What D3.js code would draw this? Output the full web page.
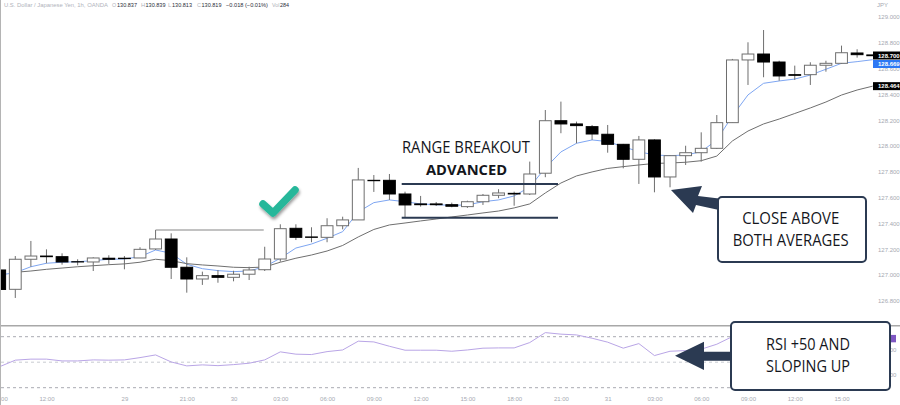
<!DOCTYPE html>
<html>
<head>
<meta charset="utf-8">
<script src="https://d3js.org/d3.v7.min.js"></script>
<style>
    html, body { margin: 0; padding: 0; background: #fff; }
    svg { display: block; font-family: "Liberation Sans", Arial, sans-serif; }
    .note { font-family: "Open Sans", sans-serif; fill: #14161c; text-anchor: middle; }
    .axis text { fill: #a6a9b2; font-size: 6px; }
    .axis path, .axis line { display: none; }
</style>
</head>
<body>
<div id="chart-area"></div>
<script>
var width = 900;
var height = 405;

// hourly candles
var opens = [127.039, 126.889, 127.122, 127.147, 127.142, 127.103, 127.101, 127.130, 127.130, 127.132,
    127.202, 127.279, 127.060, 126.969, 126.995, 126.982, 127.006, 127.041, 127.124, 127.362,
    127.295, 127.292, 127.382, 127.427, 127.734, 127.734, 127.628, 127.551, 127.551, 127.545,
    127.530, 127.568, 127.618, 127.633, 127.628, 127.789, 128.196, 128.171, 128.150, 128.091,
    128.013, 127.897, 128.047, 127.760, 127.925, 127.948, 127.982, 128.181, 128.667, 128.713,
    128.651, 128.553, 128.553, 128.626, 128.641, 128.721, 128.706];
var highs = [127.054, 127.147, 127.264, 127.199, 127.168, 127.122, 127.137, 127.153, 127.147, 127.215,
    127.349, 127.323, 127.137, 127.026, 127.039, 127.033, 127.064, 127.219, 127.393, 127.393,
    127.370, 127.440, 127.452, 127.830, 127.775, 127.783, 127.646, 127.613, 127.566, 127.561,
    127.576, 127.628, 127.665, 127.646, 127.879, 128.279, 128.344, 128.189, 128.163, 128.163,
    128.016, 128.078, 128.052, 127.930, 128.002, 128.106, 128.240, 128.675, 128.804, 128.899,
    128.661, 128.623, 128.649, 128.661, 128.778, 128.750, 128.706];
var lows = [126.868, 126.822, 127.064, 127.091, 127.080, 127.075, 127.031, 127.086, 127.044, 127.132,
    127.194, 126.969, 126.863, 126.923, 126.940, 126.951, 126.961, 127.031, 127.103, 127.271,
    127.254, 127.254, 127.354, 127.427, 127.644, 127.582, 127.447, 127.530, 127.535, 127.525,
    127.520, 127.543, 127.595, 127.537, 127.620, 127.758, 128.099, 128.021, 128.047, 127.948,
    127.827, 127.706, 127.641, 127.680, 127.853, 127.879, 127.977, 128.181, 128.473, 128.533,
    128.506, 128.512, 128.473, 128.576, 128.636, 128.685, 128.700];
var closes = [126.888, 127.122, 127.147, 127.142, 127.101, 127.101, 127.132, 127.122, 127.127, 127.199,
    127.279, 127.060, 126.969, 126.995, 126.982, 127.006, 127.039, 127.124, 127.359, 127.292,
    127.292, 127.382, 127.427, 127.737, 127.731, 127.628, 127.543, 127.545, 127.545, 127.533,
    127.568, 127.618, 127.636, 127.628, 127.783, 128.196, 128.171, 128.158, 128.093, 128.013,
    127.897, 128.047, 127.760, 127.925, 127.948, 127.982, 128.181, 128.667, 128.713, 128.651,
    128.543, 128.548, 128.626, 128.641, 128.723, 128.708, 128.700];

// the two moving averages
var fastAverage = [127.000, 127.018, 127.064, 127.091, 127.099, 127.103, 127.111, 127.122, 127.124, 127.142,
    127.194, 127.168, 127.083, 127.049, 127.034, 127.026, 127.031, 127.064, 127.130, 127.209,
    127.240, 127.285, 127.336, 127.489, 127.561, 127.582, 127.568, 127.551, 127.545, 127.540,
    127.543, 127.568, 127.582, 127.613, 127.682, 127.830, 127.954, 128.021, 128.047, 128.034,
    127.995, 127.956, 127.930, 127.925, 127.930, 127.956, 128.047, 128.233, 128.396, 128.486,
    128.504, 128.519, 128.550, 128.595, 128.641, 128.654, 128.669];
// starts one candle later than the fast one
var slowAverage = [127.021, 127.031, 127.044, 127.054, 127.064, 127.072, 127.080, 127.086, 127.099,
    127.122, 127.111, 127.088, 127.078, 127.070, 127.060, 127.057, 127.062, 127.099, 127.130,
    127.155, 127.186, 127.229, 127.295, 127.353, 127.388, 127.403, 127.419, 127.434, 127.450,
    127.465, 127.481, 127.496, 127.520, 127.551, 127.636, 127.713, 127.768, 127.799, 127.826,
    127.840, 127.853, 127.865, 127.868, 127.874, 127.886, 127.922, 128.039, 128.116, 128.171,
    128.209, 128.252, 128.295, 128.341, 128.395, 128.434, 128.464];

// the rest of the rsi runs behind the callout
var rsiValues = [46.5, 51.6, 52.4, 52.4, 51.0, 51.0, 51.8, 51.6, 51.8, 53.6,
    55.7, 50.2, 47.1, 47.9, 47.3, 48.1, 49.2, 51.8, 58.1, 56.3,
    56.0, 58.3, 59.6, 66.5, 65.9, 62.5, 59.4, 59.4, 59.4, 58.6,
    59.6, 61.0, 61.2, 61.2, 65.4, 73.2, 72.0, 71.4, 68.8, 65.7,
    61.0, 64.6, 55.2, 58.6, 59.1, 60.2, 64.1, 70.1];
var rsiLevels = [70, 50, 30];
var rsiTicks = [60, 40];

var priceTicks = [129, 128.8, 128.6, 128.4, 128.2, 128, 127.8, 127.6, 127.4, 127.2, 127, 126.8];
var timeTickIndex = [0, 3, 8, 12, 15, 18, 21, 24, 27, 30, 33, 36, 39, 42, 45, 48, 51, 54];
var timeTickLabels = ["09:00", "12:00", "29", "21:00", "30", "03:00", "06:00", "09:00", "12:00", "15:00",
    "18:00", "21:00", "31", "03:00", "06:00", "09:00", "12:00", "15:00"];

var navy = "#2b3a52";
var wickColor = "#6e6e6e";
var chartRight = 873;

var x = d3.scaleLinear().domain([0, 56]).range([-0.3, 872.7]);
var y = d3.scaleLinear().domain([126.8, 129]).range([300.8, 17]);
var rsiY = d3.scaleLinear().domain([30, 70]).range([387.7, 336.7]);

var svg = d3.select("#chart-area").append("svg")
    .attr("width", width)
    .attr("height", height);

var defs = svg.append("defs");
defs.append("clipPath").attr("id", "plot-clip").append("rect")
    .attr("x", 1).attr("y", 0).attr("width", chartRight - 1).attr("height", 325);
var shadow = defs.append("filter").attr("id", "check-shadow")
    .attr("x", "-30%").attr("y", "-30%").attr("width", "170%").attr("height", "170%");
shadow.append("feDropShadow")
    .attr("dx", 1).attr("dy", 2.5).attr("stdDeviation", 1.6)
    .attr("flood-color", "#000").attr("flood-opacity", 0.4);

var indexes = d3.range(opens.length);
var plot = svg.append("g").attr("clip-path", "url(#plot-clip)");

function drawAverage(values, firstIndex, color) {
    var line = d3.line()
        .x(function(d, i) { return x(i + firstIndex); })
        .y(function(d) { return y(d); });
    plot.append("path")
        .attr("d", line(values))
        .attr("fill", "none")
        .attr("stroke", color)
        .attr("stroke-width", 1);
}

drawAverage(fastAverage, 0, "#7ea6f2");
drawAverage(slowAverage, 1, "#6f6f6f");

// wicks
plot.selectAll(".wick")
    .data(indexes)
    .enter()
    .append("line")
    .attr("class", "wick")
    .attr("x1", function(d) { return x(d); })
    .attr("x2", function(d) { return x(d); })
    .attr("y1", function(d) { return y(highs[d]); })
    .attr("y2", function(d) { return y(lows[d]); })
    .attr("stroke", wickColor)
    .attr("stroke-width", 1);

// bodies, a close under the open is filled black
var bodyWidth = 11.8;
plot.selectAll(".body")
    .data(indexes)
    .enter()
    .append("rect")
    .attr("class", "body")
    .attr("x", function(d) { return x(d) - bodyWidth / 2; })
    .attr("y", function(d) { return y(Math.max(opens[d], closes[d])); })
    .attr("width", bodyWidth)
    .attr("height", function(d) { return Math.abs(y(opens[d]) - y(closes[d])); })
    .attr("fill", function(d) { return closes[d] < opens[d] ? "#000" : "#fff"; })
    .attr("stroke", function(d) { return closes[d] < opens[d] ? "#000" : wickColor; })
    .attr("stroke-width", 1);

// high of the earlier swing
var swingIndex = 10;
plot.append("line")
    .attr("x1", x(swingIndex))
    .attr("x2", x(17) - 1)
    .attr("y1", y(highs[swingIndex]))
    .attr("y2", y(highs[swingIndex]))
    .attr("stroke", "#858585")
    .attr("stroke-width", 1.1);

// price axis
var priceAxis = d3.axisRight(y)
    .tickValues(priceTicks)
    .tickSize(0)
    .tickPadding(0)
    .tickFormat(d3.format(".3f"));
svg.append("g")
    .attr("class", "axis")
    .attr("transform", "translate(878,0)")
    .call(priceAxis);

svg.append("text")
    .attr("x", 877)
    .attr("y", 6.5)
    .attr("font-size", 6)
    .attr("fill", "#a6a9b2")
    .text("JPY");

function priceTag(text, centerY, color) {
    svg.append("rect")
        .attr("x", chartRight)
        .attr("y", centerY - 4)
        .attr("width", width - chartRight)
        .attr("height", 8)
        .attr("fill", color);
    svg.append("text")
        .attr("x", 878)
        .attr("y", centerY + 2.2)
        .attr("font-size", 6)
        .attr("font-weight", 700)
        .attr("fill", "#fff")
        .text(text);
}

priceTag("128.669", y(fastAverage[56]) + 4.3, "#2d78f4");
priceTag("128.700", y(closes[56]) - 0.2, "#000");
priceTag("128.464", y(slowAverage[55]), "#000");

// time axis
var timeAxis = d3.axisBottom(x)
    .tickValues(timeTickIndex)
    .tickSize(0)
    .tickPadding(0)
    .tickFormat(function(d) { return timeTickLabels[timeTickIndex.indexOf(d)]; });
svg.append("g")
    .attr("class", "axis")
    .attr("transform", "translate(0,397)")
    .call(timeAxis);

// rsi pane
svg.append("line")
    .attr("x1", 0).attr("x2", width)
    .attr("y1", 325.7).attr("y2", 325.7)
    .attr("stroke", "#a8a8a8")
    .attr("stroke-width", 1.5);

svg.selectAll(".rsi-level")
    .data(rsiLevels)
    .enter()
    .append("line")
    .attr("class", "rsi-level")
    .attr("x1", 1)
    .attr("x2", chartRight)
    .attr("y1", function(d) { return rsiY(d); })
    .attr("y2", function(d) { return rsiY(d); })
    .attr("stroke", function(d) { return d === 50 ? "#c9cbd1" : "#a9abb2"; })
    .attr("stroke-width", 1)
    .attr("stroke-dasharray", "3 3");

var rsiLine = d3.line()
    .x(function(d, i) { return x(i); })
    .y(function(d) { return rsiY(d); });
svg.append("path")
    .attr("d", rsiLine(rsiValues))
    .attr("fill", "none")
    .attr("stroke", "#b9a5e6")
    .attr("stroke-width", 1);

var rsiAxis = d3.axisRight(rsiY)
    .tickValues(rsiTicks)
    .tickSize(0)
    .tickPadding(0)
    .tickFormat(d3.format(".3f"));
svg.append("g")
    .attr("class", "axis")
    .attr("transform", "translate(878,0)")
    .call(rsiAxis);

svg.append("rect")
    .attr("x", chartRight)
    .attr("y", rsiY(68.5) - 3.7)
    .attr("width", width - chartRight - 4)
    .attr("height", 7.4)
    .attr("fill", "#7e57c2");

// left edge of the window
svg.append("line")
    .attr("x1", 0.5).attr("x2", 0.5)
    .attr("y1", 0).attr("y2", height)
    .attr("stroke", "#b4b4b4")
    .attr("stroke-width", 1);

// header
var headerParts = [
    {text: "U.S. Dollar / Japanese Yen, 1h, OANDA", x: 4, len: 104, color: "#b0b3bb"},
    {text: "O", x: 112, len: 4.2, color: "#b0b3bb"},
    {text: "130.837", x: 117, len: 20, color: "#2a2e39"},
    {text: "H", x: 141, len: 4.2, color: "#b0b3bb"},
    {text: "130.839", x: 145.5, len: 20, color: "#2a2e39"},
    {text: "L", x: 168, len: 3.4, color: "#b0b3bb"},
    {text: "130.813", x: 172, len: 20, color: "#2a2e39"},
    {text: "C", x: 197, len: 4, color: "#b0b3bb"},
    {text: "130.819", x: 201.5, len: 20, color: "#2a2e39"},
    {text: "\u22120.018 (\u22120.01%)", x: 226, len: 42, color: "#2a2e39"},
    {text: "Vol", x: 272, len: 7.5, color: "#b0b3bb"},
    {text: "284", x: 280, len: 9, color: "#2a2e39"}
];

svg.selectAll(".header")
    .data(headerParts)
    .enter()
    .append("text")
    .attr("class", "header")
    .attr("x", function(d) { return d.x; })
    .attr("y", 7.4)
    .attr("font-size", 6)
    .attr("fill", function(d) { return d.color; })
    .attr("textLength", function(d) { return d.len; })
    .attr("lengthAdjust", "spacingAndGlyphs")
    .text(function(d) { return d.text; });

// range breakout box
svg.append("line")
    .attr("x1", 401.7).attr("x2", 558)
    .attr("y1", 184).attr("y2", 184)
    .attr("stroke", navy).attr("stroke-width", 2);
svg.append("line")
    .attr("x1", 401.7).attr("x2", 558)
    .attr("y1", 217.7).attr("y2", 217.7)
    .attr("stroke", navy).attr("stroke-width", 2);

function note(text, cx, cy, size, weight, len) {
    svg.append("text")
        .attr("class", "note")
        .attr("x", cx)
        .attr("y", cy)
        .attr("font-size", size)
        .attr("font-weight", weight)
        .attr("textLength", len)
        .attr("lengthAdjust", "spacingAndGlyphs")
        .text(text);
}

note("RANGE BREAKOUT", 466, 153, 15.5, 400, 128);
note("ADVANCED", 466.5, 175, 15, 700, 81);

// green tick
svg.append("polyline")
    .attr("points", "263,204 273,213 295,190")
    .attr("fill", "none")
    .attr("stroke", "#25b79a")
    .attr("stroke-width", 7.5)
    .attr("stroke-linecap", "round")
    .attr("stroke-linejoin", "round")
    .attr("filter", "url(#check-shadow)");

// arrows, drawn before the boxes so the boxes sit on top
svg.append("polygon")
    .attr("points", "671,190 702,186 698,196 719,198.5 719,210 696,205 693,213")
    .attr("fill", navy);
svg.append("polygon")
    .attr("points", "675,355.7 704,341.7 704,351.7 732,351.7 732,360.7 704,360.7 704,370")
    .attr("fill", navy);

function callout(left, top, right, bottom) {
    svg.append("rect")
        .attr("x", left)
        .attr("y", top)
        .attr("width", right - left)
        .attr("height", bottom - top)
        .attr("rx", 4)
        .attr("ry", 4)
        .attr("fill", "#fff")
        .attr("stroke", navy)
        .attr("stroke-width", 2);
}

callout(718, 197, 866, 262);
note("CLOSE ABOVE", 790.7, 224, 15.5, 400, 97);
note("BOTH AVERAGES", 790.7, 246, 15.5, 400, 116);

callout(731, 322, 890, 390);
note("RSI +50 AND", 808, 350, 15.5, 400, 84);
note("SLOPING UP", 808, 372, 15.5, 400, 84);
</script>
</body>
</html>
